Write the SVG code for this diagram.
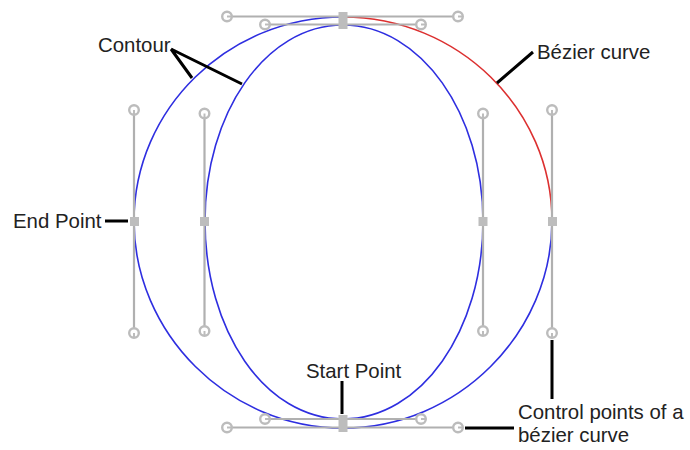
<svg xmlns="http://www.w3.org/2000/svg" width="690" height="450" viewBox="0 0 690 450">
<style>
.curve{fill:none;stroke:#2e2ee0;stroke-width:1.6}
.red{fill:none;stroke:#dc3030;stroke-width:1.6}
.handle{stroke:#b0b0b0;stroke-width:2.2;fill:none}
.knob{stroke:#bcbcbc;stroke-width:2.4;fill:#fff}
.knobline{stroke:#bcbcbc;stroke-width:2;fill:none}
.pt{fill:#bdbdbd;stroke:none}
.lead{stroke:#000;stroke-width:3;fill:none}
text{font-family:"Liberation Sans",Arial,sans-serif;font-size:20.400px;fill:#222}
</style>
<defs>
<g id="k"><circle r="4.800" class="knob"/><path d="M0,0H4.800" class="knobline"/></g>
<g id="kv"><circle r="4.800" class="knob"/><path d="M0,0V4.800" class="knobline"/></g>
</defs>
<g id="contours">
<path class="curve" d="M343,17C228,17 134,109 134,221C134,333 228,428 343,428C458,428 552,333 552,221"/>
<path class="red" d="M343,17C458,17 552,109 552,221"/>
<path class="curve" d="M343,25C265,25 205,114 205,221C205,331 265,419 343,419C421,419 483,331 483,221C483,114 421,25 343,25Z"/>
</g>
<g id="handles">
<path class="handle" d="M227,16.500H458M265,24.500H421M227,427.500H458M265,419H421M134,110V333M204.500,114V331M483,114V331M552,110V333"/>
<use href="#k" x="227" y="16.500"/><use href="#k" x="458" y="16.500"/>
<use href="#k" x="265" y="24.500"/><use href="#k" x="421" y="24.500"/>
<use href="#k" x="227" y="427.500"/><use href="#k" x="458" y="427.500"/>
<use href="#k" x="265" y="419"/><use href="#k" x="421" y="419"/>
<use href="#kv" x="134" y="110"/><use href="#kv" x="134" y="333"/>
<use href="#kv" x="204.500" y="113.500"/><use href="#kv" x="204.500" y="331"/>
<use href="#kv" x="483" y="113.500"/><use href="#kv" x="483" y="331"/>
<use href="#kv" x="552" y="110"/><use href="#kv" x="552" y="333"/>
</g>
<g id="points">
<rect class="pt" x="338.500" y="12" width="9" height="17"/>
<rect class="pt" x="338.500" y="415" width="9" height="17"/>
<rect class="pt" x="130" y="217" width="9" height="9"/>
<rect class="pt" x="200" y="217" width="9" height="9"/>
<rect class="pt" x="478.500" y="217" width="9" height="9"/>
<rect class="pt" x="548" y="217" width="9" height="9"/>
</g>
<g id="connectors">
<path class="lead" d="M171,49L192,78M171,49L242,84M533,52L497,83M105,221H128M342,381V414M552,340V399M465,428H514"/>
</g>
<g id="labels">
<text x="98" y="52">Contour</text>
<text x="537" y="59">Bézier curve</text>
<text x="13" y="228">End Point</text>
<text x="306" y="378">Start Point</text>
<text x="518" y="419">Control points of a</text>
<text x="518" y="441.500">bézier curve</text>
</g>
</svg>
